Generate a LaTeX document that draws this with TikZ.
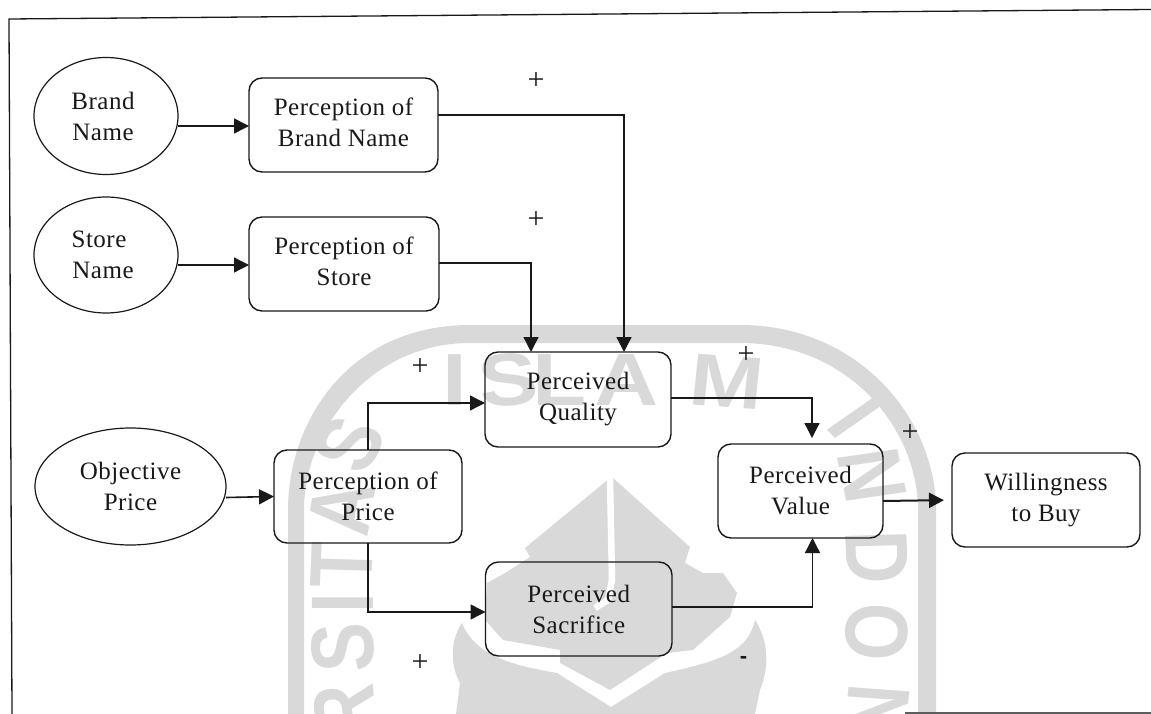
\documentclass[tikz,border=0pt]{standalone}
\usepackage{fontspec}
\setmainfont[LetterSpace=2]{Liberation Serif}
\newfontfamily\wmfont{Liberation Sans}
\usetikzlibrary{arrows.meta,shapes.geometric}
\definecolor{wm}{gray}{0.85}
\definecolor{ink}{gray}{0.1}
\tikzset{
  lbl/.style={font=\fontsize{25}{31}\selectfont,text=ink,align=center,inner sep=0pt,outer sep=0pt},
  oval/.style={lbl,draw=ink,line width=1.2pt,ellipse},
  rbox/.style={lbl,draw=ink,line width=1.4pt,rounded corners=13pt},
  arr/.style={draw=ink,line width=1.3pt,-{Triangle[length=15pt,width=15pt]}},
  sign/.style={font=\fontsize{30}{30}\selectfont,text=ink,inner sep=0pt},
  minussign/.style={font=\wmfont\bfseries\fontsize{22}{22}\selectfont,text=ink,inner sep=0pt},
  wml/.style={font=\wmfont\bfseries\fontsize{74}{74}\selectfont,text=wm,inner sep=0pt,xscale=1.2}
}
\begin{document}
\begin{tikzpicture}[x=1pt,y=-1pt]
\useasboundingbox (0,0) rectangle (1151,714);
% watermark band
\fill[wm] (288,714) -- (288,510) .. controls (288,420) and (350,325) .. (470,325) -- (740,325)
  .. controls (860,325) and (936,420) .. (936,510) -- (936,714) -- (918,714) -- (918,510)
  .. controls (918,430) and (850,343) .. (740,343) -- (470,343)
  .. controls (370,343) and (304,430) .. (304,510) -- (304,714) -- cycle;
% watermark emblem
\fill[wm] (610,478) -- (525,548) -- (530,557) -- (505,573) -- (487,583) -- (485,620) -- (503,640) -- (560,650)
  -- (560,663) -- (610,690) -- (667,653) -- (693,650) -- (730,617) -- (737,593) -- (723,573) -- (703,573)
  -- (685,563) -- (690,547) -- (613,478) -- cycle;
\draw[white,line width=6.5pt,line join=round] (610,478) -- (612,580) -- (608,600) -- (595,608);
\fill[wm] (462,623) .. controls (450,640) and (450,665) .. (460,683) -- (456,714) -- (755,714) -- (760,690)
  .. controls (770,665) and (768,640) .. (755,620) .. controls (748,650) and (725,660) .. (665,673)
  -- (611,707) -- (557,673) .. controls (510,665) and (475,655) .. (462,623) -- cycle;
% watermark letters
\node[wml] (w1) at (455,380) {I};
\node[wml,rotate=5] (w2) at (508,380) {S};
\node[wml] (w3) at (560,380) {L};
\node[wml] (w4) at (627,380) {A};
\node[wml,rotate=-5] (w5) at (727,382) {M};
\node[wml,rotate=-50] (w6) at (855,418) {I};
\node[wml,rotate=-80] (w7) at (872,475) {N};
\node[wml,rotate=-88] (w8) at (877,557) {D};
\node[wml,rotate=-92] (w9) at (877,632) {O};
\node[wml,rotate=-95] (w10) at (877,711) {N};
\node[wml,rotate=65] (w11) at (349,444) {S};
\node[wml,rotate=82] (w12) at (342,508) {A};
\node[wml,rotate=88] (w13) at (342,565) {T};
\node[wml,rotate=90] (w14) at (343,603) {I};
\node[wml,rotate=92] (w15) at (343,648) {S};
\node[wml,rotate=95] (w16) at (345,711) {R};
% frame
\draw[ink,line width=1.3pt] (12,714) -- (9,19) -- (1151,9.5);
\draw[ink!70,line width=1.5pt] (905,713) -- (1151,713);
% nodes
\node[oval,minimum width=144pt,minimum height=117pt] (brand) at (106,116) {Brand\hspace*{6pt}\\Name\hspace*{6pt}};
\node[oval,minimum width=144pt,minimum height=116pt] (store) at (106,255) {Store\hspace*{14pt}\\Name\hspace*{6pt}};
\node[oval,minimum width=191pt,minimum height=117pt] (objp) at (130.5,486.5) {Objective\\Price};
\node[rbox,minimum width=189pt,minimum height=94pt] (pbn) at (343.5,125) {Perception of\\Brand Name\\[-35pt]\strut};
\node[rbox,minimum width=190pt,minimum height=94pt] (ps) at (344,264) {Perception of\\Store\\[-35pt]\strut};
\node[rbox,minimum width=188pt,minimum height=93pt] (pp) at (368,496.5) {Perception of\\Price};
\node[rbox,minimum width=186pt,minimum height=95pt] (pq) at (578,399.5) {Perceived\\Quality};
\node[rbox,minimum width=186.5pt,minimum height=94pt] (psac) at (578.75,609) {Perceived\\Sacrifice};
\node[rbox,minimum width=165pt,minimum height=94pt] (pv) at (800.5,491) {Perceived\\Value};
\node[rbox,minimum width=188pt,minimum height=94pt] (wb) at (1046,500) {Willingness\\to Buy};
% connectors
\draw[arr,line width=1.6pt] ([yshift=-10pt]brand.east) -- ([yshift=-1pt]pbn.west);
\draw[arr] ([yshift=-10pt]store.east) -- ([yshift=-1pt]ps.west);
\draw[arr,line width=1.6pt] ([yshift=-11pt]objp.east) -- (pp.west);
\draw[arr] ([yshift=10pt]pbn.east) -| ([xshift=46pt]pq.north);
\draw[arr] ([yshift=1pt]ps.east) -| ([xshift=-47pt]pq.north);
\draw[arr] (pp.north) |- ([yshift=-3.5pt]pq.west);
\draw[arr,line width=1.5pt] (pp.south) |- ([yshift=-3pt]psac.west);
\draw[arr,shorten >=6pt] ([yshift=1.5pt]pq.east) -| ([xshift=11.5pt]pv.north);
\draw[arr] ([yshift=2pt]psac.east) -| ([xshift=12pt]pv.south);
\draw[arr,line width=2pt,shorten >=8pt] ([yshift=-10pt]pv.east) -- (wb.west);
% signs
\node[sign] (s1) at (536,81) {+};
\node[sign] (s2) at (536,220) {+};
\node[sign] (s3) at (420,367) {+};
\node[sign] (s4) at (746,355) {+};
\node[sign] (s5) at (910,433) {+};
\node[sign] (s6) at (420,663) {+};
\node[minussign] (s7) at (743.5,660) {-};
\end{tikzpicture}
\end{document}
